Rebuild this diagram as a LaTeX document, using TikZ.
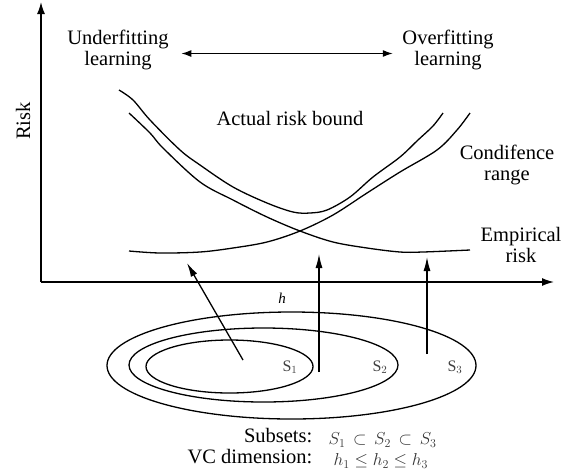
\documentclass[tikz,border=0pt]{standalone}
\usepackage{fontspec}
\setmainfont{Liberation Serif}
\usepackage{tikz}
\usetikzlibrary{
    positioning,   % relative placement of the labels
    arrows.meta,   % Latex arrowheads
    shapes.geometric % ellipse nodes for the nested subsets
}

\begin{document}
\begin{tikzpicture}[
        x=1pt, y=-1pt,
        >={Latex[length=10pt,width=7pt]},
        line width=1.3pt,
        % Styles
        lbl/.style={font=\fontsize{20.5}{21}\selectfont, align=center, inner sep=1pt},
        axis/.style={-{Latex[length=12pt,width=8pt]}, line width=1.4pt},
        curve/.style={line width=1.3pt, line join=round},
        subset/.style={ellipse, draw, line width=1.3pt, inner sep=0pt},
        setname/.style={font=\fontsize{16}{16}\selectfont, text=black!75},
        hint/.style={font=\fontsize{16.5}{17}\selectfont, text=black!80, inner sep=0pt},
        pointer/.style={-{Latex[length=14pt,width=7pt]}, line width=1.3pt}
    ]
    \useasboundingbox (0,0) rectangle (573,475);

    % --- Axes ---
    \coordinate (O) at (41,282);
    \coordinate (Ytop) at (41,2);
    \coordinate (Xend) at (554,282);
    \draw[axis] (O) -- (Ytop);
    \draw[axis] (O) -- (Xend);
    \node[lbl, rotate=90] (risk) at (23,121) {Risk};
    \node[font=\fontsize{15}{15}\selectfont\itshape] (h) at (282,298) {h};

    % --- Learning regimes ---
    \node[lbl] (under) at (118,49.5) {Underfitting\\learning};
    \node[lbl] (over) at (448,49.5) {Overfitting\\learning};
    \draw[<->] ([xshift=11pt,yshift=-4pt]under.east) -- ([xshift=-8pt,yshift=-4pt]over.west);

    % --- Curves ---
    % actual risk bound
    \draw[curve] plot[smooth, tension=0.55] coordinates {(119,90) (133,100) (150,120) (180,150)
        (200,165) (233,187) (267,203) (293,212) (310,213) (327,210) (350,197) (373,177)
        (400,157) (418,140) (433,126) (443,113)};
    % decreasing curve
    \draw[curve] plot[smooth, tension=0.55] coordinates {(129,113) (150,133) (163,148) (200,182)
        (233,200) (267,217) (300,231) (333,242) (367,248) (400,252) (423,252) (470,250)};
    % increasing curve
    \draw[curve] plot[smooth, tension=0.55] coordinates {(129,251) (160,253) (200,252) (233,248)
        (267,242) (300,231) (333,215) (367,193) (400,172) (437,150) (457,130) (470,113)};

    \node[lbl] (bound) at (290,118) {Actual risk bound};
    \node[lbl] (conf) at (507,165) {Condifence\\range};
    \node[lbl] (emp) at (521,245) {Empirical\\risk};

    % --- Nested subsets ---
    \node[subset, minimum width=369pt, minimum height=107pt] (S3) at (291.5,365.5) {};
    \node[subset, minimum width=269pt, minimum height=74pt] (S2) at (263.5,365) {};
    \node[subset, minimum width=167pt, minimum height=53pt] (S1) at (229.5,366.5) {};
    \node[setname] (n1) at (290,367) {S$_1$};
    \node[setname] (n2) at (380,367) {S$_2$};
    \node[setname] (n3) at (455,367) {S$_3$};

    % --- Pointers from the subsets to the curves ---
    \coordinate (p1) at (243,360);
    \coordinate (t1) at (187,263);
    \coordinate (p2) at (319,372);
    \coordinate (t2) at (319,254);
    \coordinate (p3) at (427,354);
    \coordinate (t3) at (427,257);
    \draw[pointer] (p1) -- (t1);
    \draw[pointer] (p2) -- (t2);
    \draw[pointer] (p3) -- (t3);

    % --- Legend ---
    \node[lbl, anchor=east] (subs) at (314,436) {Subsets:};
    \node[lbl, anchor=east] (vc) at (314,457) {VC dimension:};
    \node[hint, anchor=west] (subsmath) at (328,440) {$S_1\,\subset\,S_2\,\subset\,S_3$};
    \node[hint, anchor=west] (vcmath) at (333,461) {$h_1\leq h_2\leq h_3$};
\end{tikzpicture}
\end{document}
